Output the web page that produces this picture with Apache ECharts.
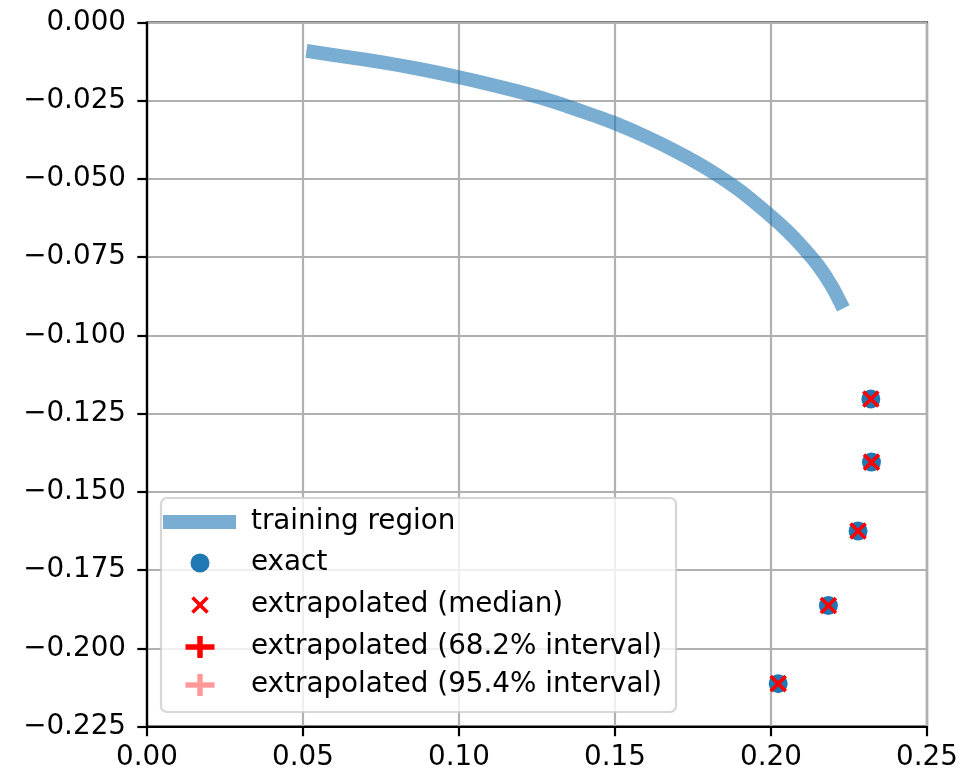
<!DOCTYPE html>
<html>
<head>
<meta charset="utf-8">
<script src="https://cdn.jsdelivr.net/npm/echarts@6/dist/echarts.min.js"></script>
<style>
  html, body { margin: 0; padding: 0; background: #fff; }
  #chart { width: 976px; height: 771px; }
</style>
</head>
<body>
<div id="chart"></div>
<script>
// Training curve (x, y)
const trainX = [0.0511, 0.0600, 0.0700, 0.0800, 0.0900, 0.1000, 0.1100, 0.1200, 0.1300, 0.1400, 0.1500, 0.1600, 0.1700, 0.1800, 0.1900, 0.2000, 0.2050, 0.2100, 0.2150, 0.2195, 0.2232];
const trainY = [-0.0091, -0.0104, -0.0119, -0.0135, -0.0154, -0.0175, -0.0198, -0.0223, -0.0252, -0.0286, -0.0322, -0.0365, -0.0414, -0.0470, -0.0537, -0.0619, -0.0664, -0.0716, -0.0775, -0.0843, -0.0914];

// Exact values at the extrapolation points
const exactX = [0.2320, 0.2322, 0.2279, 0.2184, 0.2023];
const exactY = [-0.1203, -0.1405, -0.1625, -0.1863, -0.2113];

// Extrapolated medians
const medianX = [0.2320, 0.2322, 0.2279, 0.2184, 0.2023];
const medianY = [-0.1203, -0.1405, -0.1625, -0.1863, -0.2113];

// Axis ticks
const xTicks = [0.00, 0.05, 0.10, 0.15, 0.20, 0.25];
const yTicks = [0.000, -0.025, -0.050, -0.075, -0.100, -0.125, -0.150, -0.175, -0.200, -0.225];

// Legend entries
const legendLabels = [
  'training region',
  'exact',
  'extrapolated (median)',
  'extrapolated (68.2% interval)',
  'extrapolated (95.4% interval)'
];

const FONT = 'DejaVu Sans';
const FS = 27.8;
const BLUE = '#1f77b4';
const TRAIN_COLOR = 'rgba(31,119,180,0.6)';
const RED = '#ff0000';
const RED_LIGHT = 'rgba(255,0,0,0.4)';

const zip = (xs, ys) => xs.map((x, i) => [x, ys[i]]);

const fmtY = v => {
  const s = Math.abs(v).toFixed(3);
  return (v < -1e-12 ? '\u2212' : '') + s;
};

// Legend: framed box with handles and labels
const lgX = 161, lgY = 498, lgW = 515, lgH = 214;
const rowY = [522, 563, 605, 647, 685];
const iconCx = 200;
const textX = 251;
const LZ = 100;
const legendEls = [
  {
    type: 'rect', z: LZ,
    shape: { x: lgX, y: lgY, width: lgW, height: lgH, r: 6 },
    style: { fill: 'rgba(255,255,255,0.8)', stroke: 'rgba(204,204,204,0.8)', lineWidth: 2.2 }
  },
  {
    type: 'line', z: LZ + 1,
    shape: { x1: 163, y1: rowY[0], x2: 236, y2: rowY[0] },
    style: { stroke: TRAIN_COLOR, lineWidth: 13.9 }
  },
  {
    type: 'circle', z: LZ + 1,
    shape: { cx: iconCx, cy: rowY[1], r: 9.5 },
    style: { fill: BLUE }
  },
  {
    type: 'line', z: LZ + 1,
    shape: { x1: iconCx - 7.5, y1: rowY[2] - 7.5, x2: iconCx + 7.5, y2: rowY[2] + 7.5 },
    style: { stroke: RED, lineWidth: 3.6 }
  },
  {
    type: 'line', z: LZ + 1,
    shape: { x1: iconCx + 7.5, y1: rowY[2] - 7.5, x2: iconCx - 7.5, y2: rowY[2] + 7.5 },
    style: { stroke: RED, lineWidth: 3.6 }
  },
  {
    type: 'line', z: LZ + 1,
    shape: { x1: iconCx - 14.5, y1: rowY[3], x2: iconCx + 14.5, y2: rowY[3] },
    style: { stroke: RED, lineWidth: 5.5 }
  },
  {
    type: 'line', z: LZ + 1,
    shape: { x1: iconCx, y1: rowY[3] - 11, x2: iconCx, y2: rowY[3] + 11 },
    style: { stroke: RED, lineWidth: 5.5 }
  },
  {
    type: 'line', z: LZ + 1,
    shape: { x1: iconCx - 14.5, y1: rowY[4], x2: iconCx + 14.5, y2: rowY[4] },
    style: { stroke: RED_LIGHT, lineWidth: 5.5 }
  },
  {
    type: 'line', z: LZ + 1,
    shape: { x1: iconCx, y1: rowY[4] - 11, x2: iconCx, y2: rowY[4] - 2.75 },
    style: { stroke: RED_LIGHT, lineWidth: 5.5 }
  },
  {
    type: 'line', z: LZ + 1,
    shape: { x1: iconCx, y1: rowY[4] + 2.75, x2: iconCx, y2: rowY[4] + 11 },
    style: { stroke: RED_LIGHT, lineWidth: 5.5 }
  }
];
legendLabels.forEach((t, i) => {
  legendEls.push({
    type: 'text', z: LZ + 1,
    style: {
      x: textX, y: rowY[i], text: t,
      fill: '#000', font: FS + 'px "' + FONT + '"',
      verticalAlign: 'middle', align: 'left'
    }
  });
});

const chart = echarts.init(document.getElementById('chart'), null, { renderer: 'canvas' });

chart.setOption({
  animation: false,
  backgroundColor: '#ffffff',
  textStyle: { fontFamily: FONT },
  grid: {
    left: 147, right: 49, top: 22.5, bottom: 44.5,
    containLabel: false,
    outerBoundsMode: 'none',
    show: true, borderColor: '#000', borderWidth: 2.2, backgroundColor: 'transparent'
  },
  xAxis: {
    type: 'value',
    min: xTicks[0], max: xTicks[xTicks.length - 1], interval: 0.05,
    axisLine: { show: true, onZero: false, lineStyle: { color: '#000', width: 2.2 } },
    axisTick: { show: true, inside: false, length: 9.7, lineStyle: { color: '#000', width: 2.2 } },
    axisLabel: {
      show: true, margin: 17, color: '#000', fontSize: FS, fontFamily: FONT,
      formatter: v => v.toFixed(2)
    },
    splitLine: { show: true, lineStyle: { color: '#b0b0b0', width: 2.2 } }
  },
  yAxis: {
    type: 'value',
    min: yTicks[yTicks.length - 1], max: yTicks[0], interval: 0.025,
    axisLine: { show: true, onZero: false, lineStyle: { color: '#000', width: 2.2 } },
    axisTick: { show: true, inside: false, length: 9.7, lineStyle: { color: '#000', width: 2.2 } },
    axisLabel: {
      show: true, margin: 21, color: '#000', fontSize: FS, fontFamily: FONT,
      formatter: fmtY
    },
    splitLine: { show: true, lineStyle: { color: '#b0b0b0', width: 2.2 } }
  },
  series: [
    {
      name: legendLabels[0],
      type: 'line',
      data: zip(trainX, trainY),
      showSymbol: false,
      smooth: 0.2,
      clip: false,
      lineStyle: { color: BLUE, width: 13.9, opacity: 0.6, cap: 'butt', join: 'round' },
      z: 2
    },
    {
      name: legendLabels[1],
      type: 'scatter',
      data: zip(exactX, exactY),
      symbol: 'circle',
      symbolSize: 19,
      itemStyle: { color: BLUE, opacity: 1 },
      z: 3
    },
    {
      name: legendLabels[2],
      type: 'scatter',
      data: zip(medianX, medianY),
      symbol: 'path://M0,0L10,10M10,0L0,10',
      symbolSize: 15,
      itemStyle: { color: 'rgba(0,0,0,0)', borderColor: RED, borderWidth: 3.6, opacity: 1 },
      z: 4
    }
  ],
  graphic: { elements: legendEls }
});
</script>
</body>
</html>
